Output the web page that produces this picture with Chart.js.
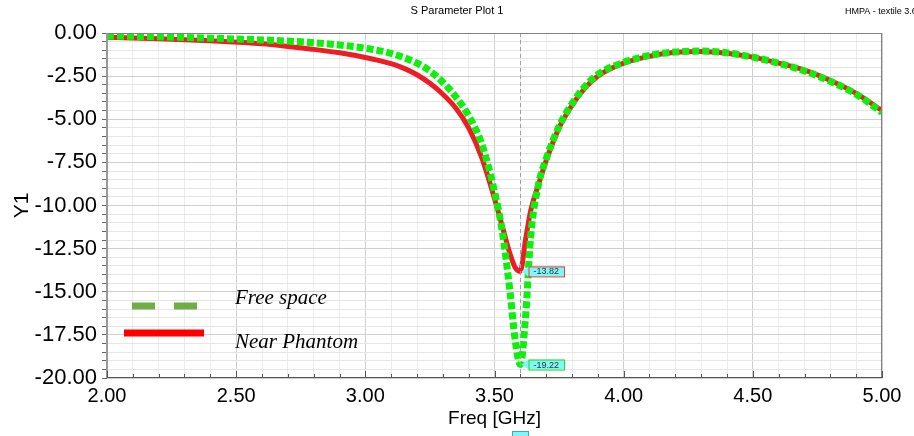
<!DOCTYPE html>
<html>
<head>
<meta charset="utf-8">
<script src="https://cdn.jsdelivr.net/npm/chart.js@4/dist/chart.umd.min.js"></script>
<style>
html,body{margin:0;padding:0;background:#fff;}
#wrap{position:relative;width:914px;height:436px;}
</style>
</head>
<body>
<div id="wrap"><canvas id="c" width="914" height="436"></canvas></div>
<script>
const freqGHz = [2.0, 2.2, 2.4, 2.6, 2.8, 2.9, 3.0, 3.1, 3.15, 3.2, 3.25, 3.3, 3.35, 3.4, 3.45, 3.5, 3.53, 3.56, 3.58, 3.6, 3.62, 3.64, 3.67, 3.7, 3.75, 3.8, 3.85, 3.9, 4.0, 4.1, 4.2, 4.3, 4.4, 4.5, 4.6, 4.7, 4.8, 4.9, 5.0];
const freeSpace = [-0.17, -0.22, -0.30, -0.40, -0.56, -0.70, -0.88, -1.18, -1.43, -1.75, -2.20, -2.85, -3.70, -4.80, -6.40, -9.20, -11.50, -15.00, -17.80, -19.22, -16.50, -11.80, -8.80, -7.30, -5.40, -4.10, -3.10, -2.40, -1.70, -1.30, -1.10, -1.05, -1.15, -1.40, -1.75, -2.20, -2.80, -3.55, -4.60];
const nearPhantom = [-0.25, -0.33, -0.45, -0.62, -0.95, -1.15, -1.42, -1.78, -2.05, -2.42, -2.92, -3.55, -4.35, -5.50, -7.20, -9.60, -11.20, -12.80, -13.60, -13.82, -12.00, -10.30, -8.80, -7.40, -5.50, -4.20, -3.20, -2.50, -1.75, -1.35, -1.12, -1.07, -1.17, -1.40, -1.75, -2.15, -2.75, -3.50, -4.50];
const seriesNames = ["Free space", "Near Phantom"];
const markerFreq = 3.6;
const markerValues = [-19.22, -13.82];
const xTickLabels = ["2.00", "2.50", "3.00", "3.50", "4.00", "4.50", "5.00"];
const yTickLabels = ["0.00", "-2.50", "-5.00", "-7.50", "-10.00", "-12.50", "-15.00", "-17.50", "-20.00"];
const chartTitle = "S Parameter Plot 1";
const projectLabel = "HMPA - textile 3.6gl";

const toPts = (ys) => freqGHz.map((f, i) => ({x: f, y: ys[i]}));
const near = (v, step) => Math.abs(v / step - Math.round(v / step)) < 1e-6;

const overlay = {
  id: 'overlay',
  afterDatasetsDraw(chart) {
    const ctx = chart.ctx, xs = chart.scales.x, ys = chart.scales.y, ca = chart.chartArea;
    ctx.save();
    const mx = Math.round(xs.getPixelForValue(markerFreq)) + 0.5;
    ctx.strokeStyle = '#a0a0a0'; ctx.lineWidth = 1; ctx.setLineDash([4, 3]);
    ctx.beginPath(); ctx.moveTo(mx, ca.top); ctx.lineTo(mx, ca.bottom); ctx.stroke();
    ctx.setLineDash([]);
    const borders = ['#22dd22', '#e83a3a'];
    ctx.font = '9px "Liberation Sans", Arial, sans-serif';
    markerValues.forEach((v, i) => {
      const py = ys.getPixelForValue(v);
      const txt = v.toFixed(2);
      const w = ctx.measureText(txt).width + 10;
      const bx = mx + 8, by = py - 5, bh = 10;
      ctx.fillStyle = '#7ff7f7';
      ctx.beginPath();
      ctx.moveTo(mx + 1, py);
      ctx.lineTo(bx, by);
      ctx.lineTo(bx + w, by);
      ctx.lineTo(bx + w, by + bh);
      ctx.lineTo(bx, by + bh);
      ctx.closePath();
      ctx.fill();
      ctx.strokeStyle = borders[i]; ctx.lineWidth = 1;
      ctx.strokeRect(bx + 0.5, by + 0.5, w, bh);
      ctx.fillStyle = '#303030'; ctx.textBaseline = 'middle'; ctx.textAlign = 'left';
      ctx.fillText(txt, bx + 5, by + bh / 2 + 0.5);
    });
    ctx.fillStyle = '#7ff7f7'; ctx.fillRect(mx - 8, 431, 16, 6);
    ctx.strokeStyle = '#4aa'; ctx.strokeRect(mx - 8, 431.5, 16, 6);
    // legend
    ctx.lineWidth = 7; ctx.strokeStyle = '#70ad47'; ctx.lineCap = 'butt';
    ctx.beginPath(); ctx.moveTo(132, 306); ctx.lineTo(155, 306); ctx.moveTo(174, 306); ctx.lineTo(197, 306); ctx.stroke();
    ctx.strokeStyle = '#ff0000';
    ctx.beginPath(); ctx.moveTo(124, 333); ctx.lineTo(204, 333); ctx.stroke();
    ctx.fillStyle = '#000';
    ctx.font = 'italic 21px "Liberation Serif", "Times New Roman", serif';
    ctx.textAlign = 'left'; ctx.textBaseline = 'middle';
    ctx.fillText(seriesNames[0], 235, 298);
    ctx.fillText(seriesNames[1], 235, 342);
    // titles
    ctx.font = '11px "Liberation Sans", Arial, sans-serif';
    ctx.textAlign = 'center'; ctx.fillStyle = '#000';
    ctx.fillText(chartTitle, 457, 11);
    ctx.font = '9px "Liberation Sans", Arial, sans-serif';
    ctx.textAlign = 'left';
    ctx.fillText(projectLabel, 845, 12);
    // frame
    ctx.strokeStyle = '#808080'; ctx.lineWidth = 1;
    ctx.strokeRect(ca.left + 0.5, ca.top + 0.5, ca.right - ca.left - 1, ca.bottom - ca.top - 1);
    ctx.strokeStyle = '#999'; ctx.lineWidth = 2;
    ctx.beginPath(); ctx.moveTo(ca.left, ca.top); ctx.lineTo(ca.left, ca.bottom); ctx.stroke();
    ctx.strokeStyle = '#555'; ctx.lineWidth = 1;
    ctx.beginPath(); ctx.moveTo(ca.left, ca.bottom - 0.5); ctx.lineTo(ca.right, ca.bottom - 0.5); ctx.stroke();
    for (let k = 0; k <= 30; k++) {
      const f = 2 + k * 0.1;
      const px = Math.round(xs.getPixelForValue(f)) + 0.5;
      const len = (k % 5 === 0) ? 7 : 4;
      ctx.beginPath(); ctx.moveTo(px, ca.bottom); ctx.lineTo(px, ca.bottom - len); ctx.stroke();
    }
    ctx.restore();
  }
};

new Chart(document.getElementById('c'), {
  type: 'line',
  data: {
    datasets: [
      {
        label: seriesNames[0], data: toPts(freeSpace),
        borderColor: '#0cf00c', borderWidth: 7, borderDash: [7, 3],
        pointRadius: 0, cubicInterpolationMode: 'monotone', fill: false, order: 0
      },
      {
        label: seriesNames[1], data: toPts(nearPhantom),
        borderColor: '#ee1c24', borderWidth: 5,
        pointRadius: 0, cubicInterpolationMode: 'monotone', fill: false, order: 1
      }
    ]
  },
  options: {
    responsive: false, animation: false,
    layout: {padding: {top: 33, right: 32, left: 0, bottom: 0}},
    plugins: {legend: {display: false}, tooltip: {enabled: false}, title: {display: false}},
    scales: {
      x: {
        type: 'linear', min: 2, max: 5,
        afterBuildTicks: (s) => { s.ticks = []; for (let k = 0; k <= 30; k++) s.ticks.push({value: +(2 + k * 0.1).toFixed(1)}); },
        afterFit: (s) => { s.height = 58; },
        border: {display: false},
        grid: {
          drawTicks: false,
          color: (c) => near(c.tick.value, 0.5) ? '#cfcfcf' : '#ebebeb',
          lineWidth: 1
        },
        ticks: {
          autoSkip: false, maxRotation: 0, padding: 6, color: '#000',
          font: {family: '"Liberation Sans Narrow", "Liberation Sans", Arial, sans-serif', size: 20},
          callback: (v) => near(v, 0.5) ? xTickLabels[Math.round((v - 2) / 0.5)] : ''
        },
        title: {
          display: true, text: 'Freq [GHz]', color: '#000',
          font: {family: '"Liberation Sans Narrow", "Liberation Sans", Arial, sans-serif', size: 19},
          padding: {top: 0, bottom: 6}
        }
      },
      y: {
        type: 'linear', min: -20, max: 0,
        afterBuildTicks: (s) => { s.ticks = []; for (let k = 0; k <= 40; k++) s.ticks.push({value: -k * 0.5}); },
        afterFit: (s) => { s.width = 107; },
        border: {display: false},
        grid: {
          drawTicks: true, tickLength: 5,
          color: (c) => near(c.tick.value, 2.5) ? '#cfcfcf' : '#e6e6e6',
          tickColor: '#666',
          lineWidth: 1
        },
        ticks: {
          autoSkip: false, padding: 5, color: '#000',
          font: {family: '"Liberation Sans", Arial, sans-serif', size: 22},
          callback: (v) => near(v, 2.5) ? yTickLabels[Math.round(-v / 2.5)] : ''
        },
        title: {
          display: true, text: 'Y1', color: '#000',
          font: {family: '"Liberation Sans", Arial, sans-serif', size: 21},
          padding: {top: 10, bottom: 0}
        }
      }
    }
  },
  plugins: [overlay]
});
</script>
</body>
</html>
